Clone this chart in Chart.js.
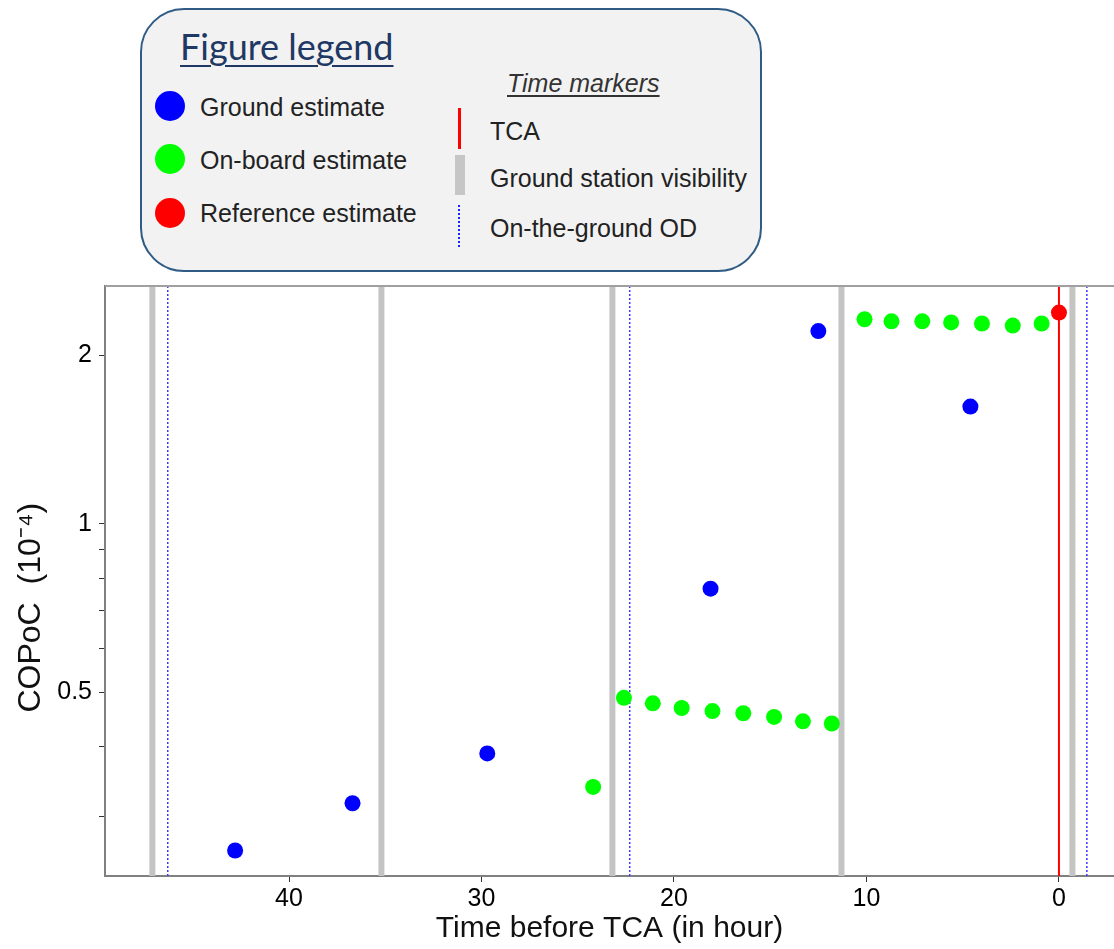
<!DOCTYPE html>
<html><head><meta charset="utf-8">
<script src="https://cdn.jsdelivr.net/npm/chart.js@4/dist/chart.umd.min.js"></script>
<style>
html,body{margin:0;padding:0;background:#fff;}
#wrap{position:relative;width:1114px;height:949px;overflow:hidden;}
#c{position:absolute;left:0;top:0;}
.box{position:absolute;left:140px;top:8px;width:622px;height:264px;box-sizing:border-box;border:2px solid #2f5b85;border-radius:44px;background:#f2f2f2;}
.t{position:absolute;font-family:"Liberation Sans",Arial,sans-serif;font-size:25px;line-height:30px;color:#222;white-space:nowrap;}
.ttl{position:absolute;left:180px;top:26px;font-family:Lato,"Open Sans",sans-serif;font-size:36px;line-height:40px;color:#1f3864;text-decoration:underline;text-decoration-thickness:2px;text-underline-offset:5px;white-space:nowrap;}
.dot{position:absolute;width:30px;height:30px;border-radius:50%;}
.mk{position:absolute;}
</style></head>
<body>
<div id="wrap">
<canvas id="c" width="1114" height="949"></canvas>
<div class="box"></div>
<div class="ttl">Figure legend</div>
<div class="dot" style="left:155px;top:91px;background:#0000ff"></div>
<div class="dot" style="left:155px;top:144px;background:#00ff00"></div>
<div class="dot" style="left:155px;top:198px;background:#ff0000"></div>
<div class="t" style="left:200px;top:92px">Ground estimate</div>
<div class="t" style="left:200px;top:145px">On-board estimate</div>
<div class="t" style="left:200px;top:198px">Reference estimate</div>
<div class="t" style="left:507px;top:68px;font-style:italic;color:#333;text-decoration:underline;text-underline-offset:3px">Time markers</div>
<div class="mk" style="left:458px;top:108px;width:3px;height:41px;background:#ff0000"></div>
<div class="mk" style="left:455px;top:155px;width:10px;height:40px;background:#c6c6c6"></div>
<div class="mk" style="left:458px;top:205px;width:0;height:42px;border-left:2px dotted #2020ff"></div>
<div class="t" style="left:490px;top:116px">TCA</div>
<div class="t" style="left:490px;top:163px">Ground station visibility</div>
<div class="t" style="left:490px;top:213px">On-the-ground OD</div>
</div>
<script>
// ---- data ----
const groundTimes = [42.8, 36.7, 29.7, 18.1, 12.5, 4.6];
const groundValues = [0.261, 0.317, 0.389, 0.766, 2.21, 1.62];
const onboardTimes = [24.2, 22.6, 21.1, 19.6, 18.0, 16.4, 14.8, 13.3, 11.8, 10.1, 8.7, 7.1, 5.6, 4.0, 2.4, 0.9];
const onboardValues = [0.339, 0.489, 0.478, 0.469, 0.463, 0.459, 0.452, 0.444, 0.440, 2.32, 2.30, 2.30, 2.29, 2.28, 2.26, 2.28];
const referenceTimes = [0];
const referenceValues = [2.385];
const visibilityTimes = [47.1, 35.2, 23.2, 11.3, -0.7];
const odTimes = [46.3, 22.3, -1.45];
const tcaTimes = [0];
const xTickValues = [40, 30, 20, 10, 0];
const yLabelTicks = [0.5, 1, 2];
const yMinorTicks = [0.3, 0.4, 0.6, 0.7, 0.8, 0.9];

const toPts = (xs, ys) => xs.map((x, i) => ({x: x, y: ys[i]}));

const markerPlugin = {
  id: 'markers',
  beforeDatasetsDraw(chart) {
    const {ctx, chartArea: a, scales: {x}} = chart;
    ctx.save();
    ctx.beginPath(); ctx.rect(a.left, a.top, a.right - a.left, a.bottom - a.top); ctx.clip();
    const vline = (t, w, col, dash) => {
      const px = x.getPixelForValue(t);
      ctx.beginPath(); ctx.lineWidth = w; ctx.strokeStyle = col; ctx.setLineDash(dash);
      ctx.moveTo(px, a.top); ctx.lineTo(px, a.bottom); ctx.stroke();
    };
    visibilityTimes.forEach(t => vline(t, 6, '#c4c4c4', []));
    odTimes.forEach(t => vline(t, 1.5, '#3a3aff', [2, 2]));
    tcaTimes.forEach(t => vline(t, 2, '#ff0000', []));
    ctx.restore();
    ctx.save();
    ctx.beginPath(); ctx.lineWidth = 2; ctx.strokeStyle = '#a0a0a0';
    ctx.moveTo(a.left, a.top); ctx.lineTo(a.right, a.top); ctx.stroke();
    ctx.restore();
  }
};

const tickFont = {family: '"Liberation Sans", Arial, sans-serif', size: 25};
const NB = '\u00A0';

new Chart(document.getElementById('c'), {
  type: 'scatter',
  data: {
    datasets: [
      {label: 'Ground estimate', data: toPts(groundTimes, groundValues), backgroundColor: '#0000ff', borderWidth: 0, pointRadius: 8},
      {label: 'On-board estimate', data: toPts(onboardTimes, onboardValues), backgroundColor: '#00ff00', borderWidth: 0, pointRadius: 8},
      {label: 'Reference estimate', data: toPts(referenceTimes, referenceValues), backgroundColor: '#ff0000', borderWidth: 0, pointRadius: 8}
    ]
  },
  plugins: [markerPlugin],
  options: {
    responsive: false,
    animation: false,
    devicePixelRatio: 1,
    layout: {autoPadding: false, padding: {top: 286, left: 0, right: 0, bottom: 0}},
    plugins: {legend: {display: false}, tooltip: {enabled: false}},
    scales: {
      x: {
        type: 'linear', reverse: true, min: -2.86, max: 49.56,
        afterFit: s => { s.height = 73; s.paddingLeft = 0; s.paddingRight = 0; },
        afterBuildTicks: s => { s.ticks = xTickValues.map(v => ({value: v})); },
        ticks: {font: tickFont, color: '#000', padding: 2, autoSkip: false, maxRotation: 0, callback: v => String(v)},
        grid: {display: true, drawOnChartArea: false, drawTicks: true, tickLength: 6, tickColor: '#333'},
        border: {display: true, color: '#808080', width: 2},
        title: {display: true, text: 'Time before TCA (in hour)', color: '#111', font: {family: '"Liberation Sans", Arial, sans-serif', size: 30}, padding: {top: 0, bottom: 2}}
      },
      y: {
        type: 'logarithmic', min: 0.235, max: 2.66,
        afterFit: s => { s.width = 105; s.paddingTop = 0; s.paddingBottom = 0; },
        afterBuildTicks: s => { s.ticks = yMinorTicks.concat(yLabelTicks).sort((a, b) => a - b).map(v => ({value: v})); },
        ticks: {font: tickFont, color: '#000', padding: 7, autoSkip: false, callback: v => yLabelTicks.includes(v) ? String(v) : ''},
        grid: {display: true, drawOnChartArea: false, drawTicks: true, tickLength: 6, tickColor: '#333'},
        border: {display: true, color: '#808080', width: 2},
        title: {display: true, text: 'COPoC' + NB + NB + '(10⁻⁴)' + NB + NB + NB + NB + NB + NB, color: '#111', font: {family: '"Liberation Sans", Arial, sans-serif', size: 32}, padding: {top: 12, bottom: 0}}
      }
    }
  }
});
</script>
</body></html>
